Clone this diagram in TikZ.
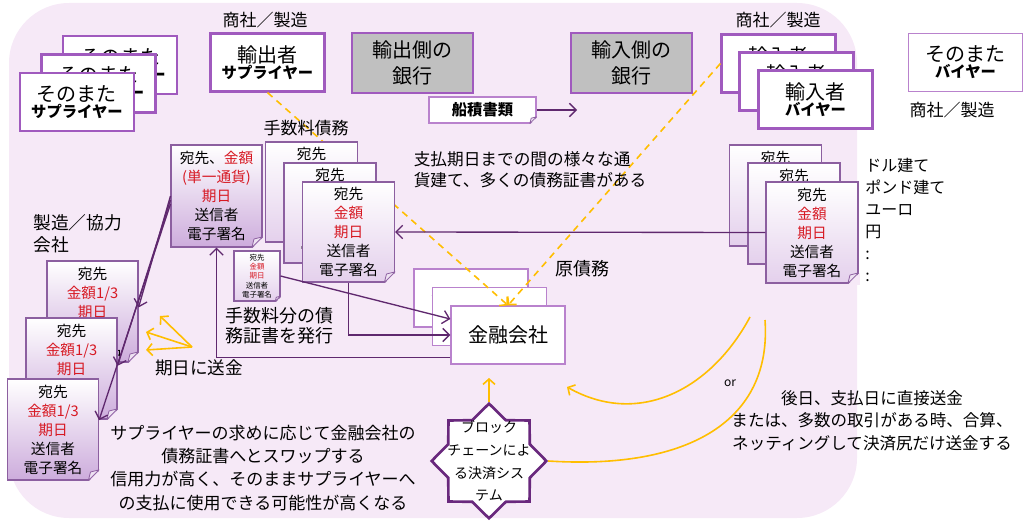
\documentclass[tikz,border=0pt]{standalone}
\usepackage{fontspec}
\setmainfont{Noto Sans CJK JP}
\usepackage{tikz}
\usetikzlibrary{shapes,arrows.meta,positioning,calc}

\definecolor{pagebg}{RGB}{246,233,247}
\definecolor{boxline}{RGB}{160,90,190}
\definecolor{thinline}{RGB}{185,130,205}
\definecolor{darkline}{RGB}{95,40,110}
\definecolor{docline}{RGB}{140,95,160}
\definecolor{docfill}{RGB}{228,208,236}
\definecolor{docdeep}{RGB}{205,172,220}
\definecolor{foldfill}{RGB}{238,226,242}
\definecolor{jpred}{RGB}{215,25,35}
\definecolor{bankgray}{RGB}{192,192,192}
\definecolor{payyellow}{RGB}{255,190,0}
\definecolor{starline}{RGB}{105,40,125}

\newcommand{\sizeL}{\fontsize{15}{19}\selectfont}
\newcommand{\sizeM}{\fontsize{12.75}{16.5}\selectfont}
\newcommand{\sizeS}{\fontsize{11.5}{15}\selectfont}
\newcommand{\sizeDoc}{\fontsize{11}{14.25}\selectfont}
\newcommand{\sizeTiny}{\fontsize{5.6}{7}\selectfont}
\newcommand{\slip}[1]{宛先\\\textcolor{jpred}{#1}\\\textcolor{jpred}{期日}\\送信者\\電子署名}
\newcommand{\foldcorner}[2][8pt]{%
  \fill[pagebg] ([xshift=1pt,yshift=#1]#2.south east) -- ([xshift=1pt,yshift=-1pt]#2.south east) -- ([xshift=-#1,yshift=-1pt]#2.south east) -- cycle;
  \filldraw[draw=docline, fill=foldfill, line width=0.6pt, line join=round] ([yshift=#1]#2.south east) -- ([xshift=-#1]#2.south east) -- ([xshift=-0.8*#1,yshift=0.8*#1]#2.south east) -- cycle;
}

\begin{document}
\begin{tikzpicture}[x=0.75pt, y=-0.75pt,
    box/.style={rectangle, draw=boxline, line width=1.6pt, fill=white, minimum width=85.5pt, minimum height=43.5pt, align=center, inner sep=0pt},
    thinbox/.style={box, draw=thinline, line width=1pt},
    bank/.style={box, fill=bankgray, minimum width=90.75pt, minimum height=45pt, font=\sizeL},
    doc/.style={rectangle, draw=docline, line width=0.8pt, top color=white, bottom color=docfill, minimum width=69pt, minimum height=75pt, align=center, inner sep=0pt, font=\sizeDoc},
    deepdoc/.style={doc, bottom color=docdeep},
    note/.style={align=center, inner sep=0pt},
    darrow/.style={draw=darkline, line width=1pt, -{Straight Barb[length=5pt,width=10pt]}},
    yarrow/.style={draw=payyellow, line width=1.2pt, -{Straight Barb[length=4pt,width=9pt]}},
    ydash/.style={yarrow, dash pattern=on 5pt off 4pt}
]
\useasboundingbox (0,0) rectangle (1024,524);
\fill[pagebg, rounded corners=45pt] (9,3) rectangle (857,518);

% Finance company
\node[thinbox, font=\sizeL] (fin3) at (471,298) {金融会社};
\node[thinbox, font=\sizeL] (fin2) at (489.5,316.5) {金融会社};
\node[thinbox, font=\sizeL] (fin1) at (508,335) {金融会社};

% Original debt flow
\node[box] (exp) at (267.5,62.5) {\sizeL 輸出者\\\sizeS\bfseries サプライヤー};
\node[box] (imp3) at (778.5,63.5) {\sizeL 輸入者\\\sizeS\bfseries バイヤー};
\draw[ydash] (exp.south) -- (fin1.north);
\draw[ydash] (imp3.west) -- (fin1.north);

% Supplier side
\node[box] (sup3) at (120,65) {\sizeL そのまた\\\sizeS\bfseries サプライヤー};
\node[box] (sup2) at (98.5,83.5) {\sizeL そのまた\\\sizeS\bfseries サプライヤー};
\node[box] (sup1) at (77,102) {\sizeL そのまた\\\sizeS\bfseries サプライヤー};
\node[note, font=\sizeM] (expRole) at (265,20) {商社／製造};

% Banks
\node[bank] (expBank) at (412.5,63) {輸出側の\\銀行};
\node[bank] (impBank) at (631.5,63) {輸入側の\\銀行};
\node[rectangle, draw=thinline, line width=0.8pt, fill=white, minimum width=80.25pt, minimum height=19.5pt, font=\sizeS\bfseries] (ship) at (482.5,110) {船積書類};
\foldcorner[5pt]{ship}
\coordinate (shipTo) at (577,110);

% Buyer side
\node[box] (imp2) at (796.5,81.5) {\sizeL 輸入者\\\sizeS\bfseries バイヤー};
\node[box] (imp1) at (815.5,99.5) {\sizeL 輸入者\\\sizeS\bfseries バイヤー};
\node[note, font=\sizeM] (impRole) at (778,20) {商社／製造};
\node[thinbox] (buy) at (965.5,62.5) {\sizeL そのまた\\\sizeS\bfseries バイヤー};
\node[note, font=\sizeM] (buyRole) at (952,110) {商社／製造};

% Debt certificates
\node[note, font=\sizeM] (feeDebt) at (306,128) {手数料債務};
\node[deepdoc, minimum width=68.25pt, minimum height=76.5pt] (docA) at (216.5,196) {宛先、\textcolor{jpred}{金額}\\\textcolor{jpred}{(単一通貨)}\\\textcolor{jpred}{期日}\\送信者\\電子署名};
\foldcorner{docA}
\node[doc] (B3) at (311.5,192) {\slip{金額}};
\node[doc] (B2) at (330,213) {\slip{金額}};
\node[doc] (B1) at (348.5,232) {\slip{金額}};
\foldcorner{B1}
\node[doc, minimum width=34.5pt, minimum height=37.5pt, font=\sizeTiny] (docC) at (257,276) {\slip{金額}};
\foldcorner[4pt]{docC}
\node[doc, minimum height=75.75pt] (D3) at (775.5,195.5) {\slip{金額}};
\node[doc, minimum height=75.75pt] (D2) at (794,213.5) {\slip{金額}};
\node[doc, minimum height=75.75pt] (D1) at (812,232.5) {\slip{金額}};
\foldcorner{D1}
\node[note, anchor=north west, align=left, font=\fontsize{12}{16.5}\selectfont] (ccy) at (865,158) {ドル建て\\ポンド建て\\ユーロ\\円\\:\\:};
\node[note, align=left, font=\fontsize{12.5}{15.75}\selectfont] (variety) at (530,169.5) {支払期日までの間の様々な通\\貨建て、多くの債務証書がある};
\node[note, font=\fontsize{13.5}{16}\selectfont] (orig) at (582,269) {原債務};

% Maker side
\node[note, anchor=north west, align=left, font=\fontsize{13.3}{16.5}\selectfont] (maker) at (33,214) {製造／協力\\会社};
\node[deepdoc, minimum width=68.25pt, minimum height=75.75pt] (L1) at (92.5,311.5) {\slip{金額1/3}};
\foldcorner{L1}
\node[deepdoc, minimum width=68.25pt, minimum height=75.75pt] (L2) at (71.5,368.5) {\slip{金額1/3}};
\foldcorner{L2}
\node[deepdoc, minimum width=68.25pt, minimum height=75.75pt] (L3) at (53,429.5) {\slip{金額1/3}};
\foldcorner{L3}
\node[note, anchor=north west, align=left, font=\fontsize{13.5}{15}\selectfont] (feeIssue) at (225,307) {手数料分の債\\務証書を発行};
\node[note, font=\fontsize{13.2}{16}\selectfont] (payDue) at (199,368) {期日に送金};
\node[note, font=\fontsize{12.75}{17.3}\selectfont] (swap) at (263,468) {サプライヤーの求めに応じて金融会社の\\債務証書へとスワップする\\信用力が高く、そのままサプライヤーへ\\の支払に使用できる可能性が高くなる};

% Settlement
\node[star, star points=8, star point ratio=1.3, draw=starline, line width=2pt, fill=white, minimum size=86pt, inner sep=0pt] (chain) at (489,461) {};
\node[note, font=\fontsize{10.5}{17}\selectfont] (chainText) at (chain.center) {ブロック\\チェーンによ\\る決済シス\\テム};
\node[note, font=\fontsize{9}{11}\selectfont] (orText) at (730,383) {or};
\node[note, font=\fontsize{12.4}{16.9}\selectfont] (later) at (872,420.5) {後日、支払日に直接送金\\または、多数の取引がある時、合算、\\ネッティングして決済尻だけ送金する};

% Certificate arrows
\draw[darrow] (ship.east) -- (shipTo);
\draw[darrow] (D1.west) -- (B1.east);
\draw[darrow] (B1.south) |- (fin1.west);
\draw[darrow] (docC.east) -- ([yshift=12pt]fin1.west);
\draw[darrow] ([yshift=-17pt]fin1.west) -| (docA.south);
\draw[darrow] (docA.west) -- ([yshift=3pt]L1.east);
\draw[darrow] ([yshift=-3pt]docA.west) -- ([yshift=2pt]L2.east);
\draw[darrow] ([yshift=-6pt]docA.west) -- ([yshift=7pt]L3.east);

% Payment arrows
\coordinate (dueSrc) at (192,347);
\coordinate (due1) at (160,316);
\coordinate (due2) at (146,332);
\coordinate (due3) at (146,350);
\draw[yarrow] (dueSrc) -- (due1);
\draw[yarrow] (dueSrc) -- (due2);
\draw[yarrow] (dueSrc) -- (due3);
\coordinate (chainUp) at (489,378);
\draw[yarrow] (chain.north) -- (chainUp);
\coordinate (orTop) at (765,320);
\draw[draw=payyellow, line width=1.2pt] (chain.east) .. controls (690,470) and (772,420) .. (orTop);
\coordinate (orStart) at (750,317);
\coordinate (orEnd) at (567,387);
\draw[yarrow] (orStart) .. controls (712,388) and (640,428) .. (orEnd);

\end{tikzpicture}
\end{document}
